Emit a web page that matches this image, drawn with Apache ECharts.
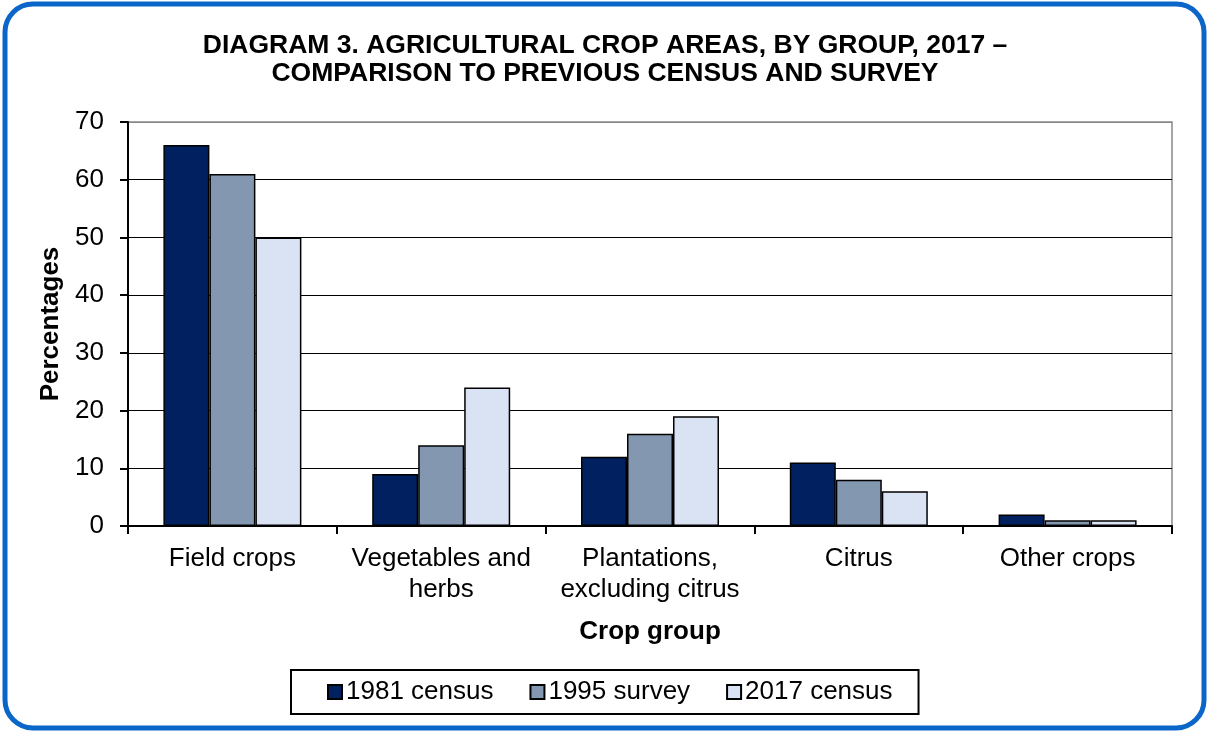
<!DOCTYPE html>
<html>
<head>
<meta charset="utf-8">
<script src="https://cdn.jsdelivr.net/npm/echarts@6/dist/echarts.min.js"></script>
<style>
  html, body { margin: 0; padding: 0; background: #fff; }
  #chart { width: 1210px; height: 733px; }
</style>
</head>
<body>
<div id="chart"></div>
<script>
// crop groups on the x axis
const categories = ['Field crops', 'Vegetables and\nherbs', 'Plantations,\nexcluding citrus', 'Citrus', 'Other crops']
const seriesNames = ['1981 census', '1995 survey', '2017 census']
const census1981 = [66, 9, 12, 11, 2]
const survey1995 = [61, 14, 16, 8, 1]
const census2017 = [50, 24, 19, 6, 1]
const colors = ['#002060', '#8497B0', '#DAE3F3']

const font = 'Liberation Sans, Arial, sans-serif'

const makeBar = (name, data, color) => ({
  name: name,
  type: 'bar',
  data: data,
  barWidth: 46,
  barGap: '0%',
  itemStyle: { color: color, borderColor: '#000', borderWidth: 1.5 }
})

const option = {
  animation: false,
  backgroundColor: '#fff',
  textStyle: { fontFamily: font },
  title: {
    text: 'DIAGRAM 3. AGRICULTURAL CROP AREAS, BY GROUP, 2017 –\nCOMPARISON TO PREVIOUS CENSUS AND SURVEY',
    left: 'center',
    top: 27,
    textStyle: { fontFamily: font, fontSize: 26.5, fontWeight: 'bold', color: '#000', lineHeight: 28 }
  },
  graphic: [{
    type: 'rect',
    shape: { x: 5, y: 4, width: 1199, height: 724, r: 28 },
    style: { fill: 'none', stroke: '#0A66C8', lineWidth: 5 },
    silent: true
  }],
  legend: {
    left: 291,
    top: 670,
    padding: [9, 26, 9, 36],
    itemGap: 36,
    itemWidth: 14,
    itemHeight: 14,
    borderColor: '#000',
    borderWidth: 2,
    icon: 'rect',
    textStyle: { fontFamily: font, fontSize: 26, color: '#000', padding: [0, 0, 0, -1] },
    data: seriesNames
  },
  grid: {
    left: 128, right: 38, top: 122, bottom: 207,
    show: true, borderColor: '#888', borderWidth: 1.5
  },
  xAxis: {
    type: 'category',
    data: categories,
    name: 'Crop group',
    nameLocation: 'middle',
    nameGap: 93,
    nameTextStyle: { fontFamily: font, fontSize: 26, fontWeight: 'bold', color: '#000' },
    axisLine: { lineStyle: { color: '#000', width: 2 } },
    axisTick: { show: true, alignWithLabel: false, length: 8, lineStyle: { color: '#000', width: 2 } },
    axisLabel: { fontFamily: font, fontSize: 26, color: '#000', margin: 17, lineHeight: 31, interval: 0 }
  },
  yAxis: {
    type: 'value',
    min: 0,
    max: 70,
    interval: 10,
    name: 'Percentages',
    nameLocation: 'middle',
    nameRotate: 90,
    nameGap: 63,
    nameTextStyle: { fontFamily: font, fontSize: 26, fontWeight: 'bold', color: '#000' },
    axisLine: { show: true, lineStyle: { color: '#000', width: 2 } },
    axisTick: { show: true, inside: false, length: 8, lineStyle: { color: '#000', width: 2 } },
    axisLabel: { fontFamily: font, fontSize: 26, color: '#000', margin: 24 },
    splitLine: { lineStyle: { color: ['#000', '#000', '#000', '#000', '#000', '#000', '#000', '#888'], width: 1 } }
  },
  series: [
    makeBar(seriesNames[0], census1981, colors[0]),
    makeBar(seriesNames[1], survey1995, colors[1]),
    makeBar(seriesNames[2], census2017, colors[2])
  ]
}

const chart = echarts.init(document.getElementById('chart'))
chart.setOption(option)
</script>
</body>
</html>
